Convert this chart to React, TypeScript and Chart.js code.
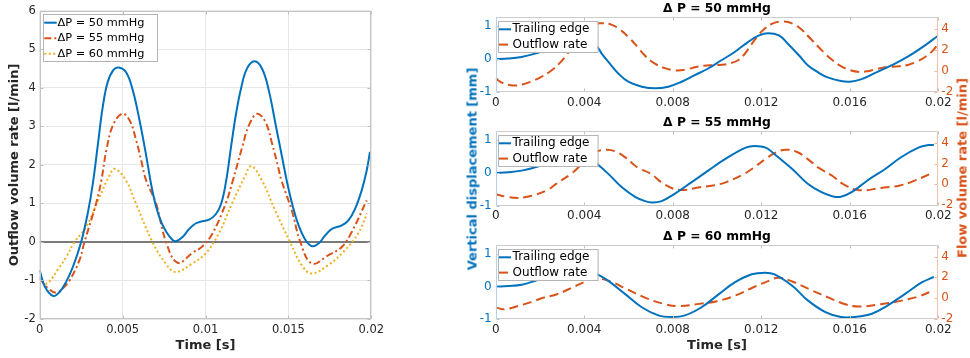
import React, { useEffect, useRef } from 'react';
import { Chart, registerables } from 'chart.js';

Chart.register(...registerables);

const FONT = '"DejaVu Sans", "Liberation Sans", sans-serif';
const BLUE = '#0072BD';
const ORANGE = '#D95319';
const YELLOW = '#EDB120';
const TXT = '#262626';

// ---------- Left chart: outflow volume rate [l/min] vs time (ms) ----------
const leftXTickVals = [0, 5, 10, 15, 20];
const leftXTickLabels = ['0', '0.005', '0.01', '0.015', '0.02'];
const leftYTicks = [-2, -1, 0, 1, 2, 3, 4, 5, 6];

const flow50T = [0, 0.3, 0.8, 1.2, 1.6, 2.0, 2.5, 2.9, 3.2, 3.5, 3.8, 4.1, 4.45, 4.78, 5.22, 5.62, 6.02, 6.42, 6.72, 7.0, 7.3, 7.65, 8.0, 8.22, 8.6, 9.0, 9.4, 9.8, 10.22, 10.62, 10.95, 11.25, 11.55, 11.85, 12.15, 12.5, 12.96, 13.42, 13.82, 14.22, 14.62, 14.92, 15.25, 15.6, 16.0, 16.42, 16.82, 17.22, 17.62, 18.22, 18.62, 19.02, 19.42, 19.72, 19.92];
const flow50V = [-0.73, -1.15, -1.4, -1.3, -1.03, -0.65, 0.0, 0.75, 1.5, 2.5, 3.5, 4.15, 4.47, 4.53, 4.4, 3.93, 3.16, 2.25, 1.5, 0.95, 0.55, 0.25, 0.06, 0.02, 0.12, 0.33, 0.48, 0.54, 0.58, 0.72, 1.0, 1.6, 2.5, 3.35, 4.0, 4.5, 4.69, 4.49, 3.93, 3.07, 2.2, 1.55, 0.95, 0.45, 0.07, -0.11, -0.04, 0.17, 0.34, 0.43, 0.56, 0.86, 1.34, 1.85, 2.34];

const flow55T = [0, 0.5, 1.0, 1.4, 1.8, 2.4, 2.7, 3.4, 3.72, 4.02, 4.42, 4.98, 5.42, 5.82, 6.12, 6.42, 7.02, 7.62, 8.32, 9.22, 9.82, 10.42, 11.22, 11.62, 12.22, 12.62, 13.12, 13.62, 14.02, 14.38, 14.58, 15.22, 15.72, 16.42, 17.42, 18.22, 18.82, 19.72];
const flow55V = [-0.95, -1.2, -1.32, -1.2, -1.0, -0.47, 0.0, 1.0, 1.6, 2.38, 3.03, 3.33, 3.16, 2.64, 2.12, 1.6, 1.0, 0.0, -0.54, -0.28, -0.11, 0.22, 1.0, 1.55, 2.47, 3.03, 3.33, 3.11, 2.55, 1.95, 1.6, 0.8, 0.0, -0.56, -0.34, -0.13, 0.26, 1.08];

const flow60T = [0, 0.4, 1.2, 1.6, 2.1, 2.8, 3.6, 4.2, 4.52, 5.2, 5.8, 6.8, 7.6, 8.2, 9.2, 10.0, 10.8, 11.6, 12.4, 12.76, 13.4, 14.2, 15.1, 15.8, 16.4, 17.4, 18.4, 19.2, 19.75];
const flow60V = [-0.9, -1.08, -0.65, -0.39, 0.0, 0.39, 1.16, 1.72, 1.9, 1.6, 1.0, 0.0, -0.56, -0.78, -0.56, -0.3, 0.22, 1.0, 1.72, 1.97, 1.6, 0.82, 0.0, -0.6, -0.82, -0.6, -0.22, 0.22, 0.74];

const zeroLineT = [0, 19.92];
const zeroLineV = [0, 0];

// ---------- Right panels: trailing edge vertical displacement [mm] ----------
const rightXTickVals = [0, 4, 8, 12, 16, 20];
const rightXTickLabels = ['0', '0.004', '0.008', '0.012', '0.016', '0.02'];
const dispTicks = [-1, 0, 1];
const flowTicks = [-2, 0, 2, 4];

const te50T = [0, 0.57, 1.17, 1.78, 2.23, 3.0, 3.8, 4.3, 4.59, 4.79, 5.09, 5.54, 5.99, 6.6, 7.2, 7.8, 8.4, 9.0, 9.6, 10.2, 10.8, 11.4, 11.9, 12.3, 12.8, 13.2, 13.7, 14.1, 14.6, 15.0, 15.6, 16.0, 16.5, 17.1, 17.9, 18.6, 19.4, 20.0];
const te50V = [0, 0.02, 0.07, 0.17, 0.27, 0.4, 0.47, 0.45, 0.37, 0.17, -0.08, -0.43, -0.68, -0.83, -0.88, -0.83, -0.68, -0.48, -0.28, -0.03, 0.22, 0.52, 0.72, 0.79, 0.72, 0.47, 0.12, -0.18, -0.41, -0.55, -0.66, -0.68, -0.61, -0.43, -0.18, 0.07, 0.42, 0.72];

const te55T = [0, 0.57, 1.17, 1.78, 2.15, 3.0, 3.8, 4.3, 4.59, 5.09, 5.69, 6.3, 6.75, 7.05, 7.5, 8.1, 8.86, 9.6, 10.36, 11.3, 11.7, 12.2, 12.6, 13.4, 14.1, 14.7, 15.2, 15.6, 16.1, 16.8, 17.6, 18.3, 19.1, 19.55, 19.8];
const te55V = [0, 0.02, 0.07, 0.17, 0.25, 0.4, 0.47, 0.42, 0.27, -0.03, -0.43, -0.73, -0.86, -0.9, -0.86, -0.63, -0.28, 0.07, 0.42, 0.77, 0.82, 0.77, 0.57, 0.12, -0.33, -0.58, -0.71, -0.73, -0.58, -0.23, 0.12, 0.47, 0.77, 0.85, 0.85];

const te60T = [0, 0.57, 1.17, 1.78, 2.08, 3.0, 3.8, 4.3, 4.59, 5.09, 5.84, 6.6, 7.35, 7.95, 8.55, 9.3, 10.1, 10.8, 11.57, 12.17, 12.6, 13.4, 14.1, 14.9, 15.6, 16.2, 17.0, 17.7, 18.5, 19.25, 19.8];
const te60V = [0, 0.02, 0.06, 0.18, 0.26, 0.42, 0.5, 0.47, 0.38, 0.18, -0.22, -0.63, -0.88, -0.93, -0.88, -0.63, -0.22, 0.13, 0.38, 0.43, 0.38, 0.03, -0.42, -0.78, -0.93, -0.93, -0.83, -0.58, -0.22, 0.13, 0.3];

const pts = (t: number[], v: number[]) => t.map((x, i) => ({ x, y: v[i] }));

const fixedTicks = (vals: number[]) => (s: any) => {
  s.ticks = vals.map((v) => ({ value: v }));
};

const framePlugin: any = {
  id: 'frame',
  afterDatasetsDraw(chart: any, _a: any, o: any) {
    const { ctx, chartArea: a } = chart;
    const L = o.tickLen;
    const seg = (x1: number, y1: number, x2: number, y2: number, c: string) => {
      ctx.strokeStyle = c;
      ctx.beginPath();
      ctx.moveTo(x1, y1);
      ctx.lineTo(x2, y2);
      ctx.stroke();
    };
    ctx.save();
    ctx.lineWidth = 1;
    ctx.setLineDash([]);
    const l = Math.round(a.left) + 0.5;
    const r = Math.round(a.right) - 0.5;
    const t = Math.round(a.top) + 0.5;
    const b = Math.round(a.bottom) - 0.5;
    const xs = chart.scales.x;
    for (const tk of xs.ticks) {
      const p = Math.round(xs.getPixelForValue(tk.value)) + 0.5;
      seg(p, b, p, b - L, o.xTick);
      seg(p, t, p, t + L, o.xTick);
    }
    const ys = chart.scales.y;
    const y2 = chart.scales.y2;
    for (const tk of ys.ticks) {
      const p = Math.round(ys.getPixelForValue(tk.value)) + 0.5;
      seg(l, p, l + L, p, o.yTick);
      if (!y2) seg(r, p, r - L, p, o.yTick);
    }
    if (y2) {
      for (const tk of y2.ticks) {
        const p = Math.round(y2.getPixelForValue(tk.value)) + 0.5;
        seg(r, p, r - L, p, o.y2Tick);
      }
    }
    seg(l, t, r, t, o.top);
    seg(l, b, r, b, o.bottom);
    seg(l, t, l, b, o.left);
    seg(r, t, r, b, o.right);
    ctx.restore();
  },
  afterDraw(chart: any, _a: any, o: any) {
    const lg = o.legend;
    if (!lg) return;
    const { ctx, chartArea: a } = chart;
    const items = chart.data.datasets.filter((d: any) => d.label);
    const x0 = Math.round(a.left + lg.dx);
    const y0 = Math.round(a.top + lg.dy);
    ctx.save();
    ctx.fillStyle = '#ffffff';
    ctx.fillRect(x0, y0, lg.w, lg.h);
    ctx.strokeStyle = lg.border;
    ctx.lineWidth = 1;
    ctx.strokeRect(x0 + 0.5, y0 + 0.5, lg.w, lg.h);
    ctx.font = `${lg.size}px ${FONT}`;
    ctx.textBaseline = 'middle';
    ctx.textAlign = 'left';
    ctx.fillStyle = '#000000';
    items.forEach((d: any, i: number) => {
      const y = y0 + lg.row0 + i * lg.rowH;
      ctx.save();
      ctx.strokeStyle = d.borderColor;
      ctx.lineWidth = d.borderWidth;
      ctx.setLineDash(d.borderDash || []);
      ctx.beginPath();
      ctx.moveTo(x0 + lg.s0, y);
      ctx.lineTo(x0 + lg.s1, y);
      ctx.stroke();
      ctx.restore();
      ctx.fillText(d.label, x0 + lg.tx, y);
    });
    ctx.restore();
  },
};

function ChartCanvas({ left, top, width, height, make }: any) {
  const ref = useRef<HTMLCanvasElement>(null);
  useEffect(() => {
    const chart = new Chart(ref.current as HTMLCanvasElement, make());
    return () => chart.destroy();
  }, []);
  return (
    <canvas
      ref={ref}
      width={width}
      height={height}
      style={{ position: 'absolute', left, top, width, height }}
    />
  );
}

const line = (label: string | undefined, t: number[], v: number[], color: string, extra: any = {}) => ({
  label,
  data: pts(t, v),
  borderColor: color,
  backgroundColor: color,
  borderWidth: 2,
  pointRadius: 0,
  fill: false,
  tension: 0.4,
  ...extra,
});

function makeLeft() {
  return {
    type: 'line',
    data: {
      datasets: [
        line('ΔP = 50 mmHg', flow50T, flow50V, BLUE, { order: 1 }),
        line('ΔP = 55 mmHg', flow55T, flow55V, ORANGE, { order: 2, borderDash: [7, 3, 2, 3] }),
        line('ΔP = 60 mmHg', flow60T, flow60V, YELLOW, { order: 3, borderDash: [2, 2.5] }),
        line(undefined, zeroLineT, zeroLineV, '#7a7a7a', { order: 10, tension: 0 }),
      ],
    },
    options: {
      responsive: false,
      animation: false,
      events: [],
      layout: { padding: { top: 10, right: 18.7, bottom: 0, left: 0 }, autoPadding: false },
      plugins: {
        legend: { display: false },
        tooltip: { enabled: false },
        title: { display: false },
        frame: {
          tickLen: 3,
          xTick: '#bdbdbd', yTick: '#bdbdbd', y2Tick: '#bdbdbd',
          top: '#c4c4c4', bottom: '#c4c4c4', left: '#c4c4c4', right: '#c4c4c4',
          legend: { dx: 3.3, dy: 3, w: 114, h: 47, row0: 8.7, rowH: 15.5, s0: 1.3, s1: 13.7, tx: 14.5, size: 11.3, border: '#b5b5b5' },
        },
      },
      scales: {
        x: {
          type: 'linear', min: 0, max: 20, position: 'bottom',
          afterBuildTicks: fixedTicks(leftXTickVals),
          afterFit: (s: any) => { s.height = 39; },
          ticks: {
            callback: (_v: any, i: number) => leftXTickLabels[i],
            font: { family: FONT, size: 11.5 }, color: TXT, padding: 4, maxRotation: 0, autoSkip: false,
          },
          grid: { color: '#e8e8e8', drawTicks: false, lineWidth: 1 },
          border: { display: false },
          title: { display: true, text: 'Time [s]', font: { family: FONT, size: 13, weight: 'bold' }, color: TXT, padding: { top: 0, bottom: 5 } },
        },
        y: {
          type: 'linear', min: -2, max: 6, position: 'left',
          afterBuildTicks: fixedTicks(leftYTicks),
          afterFit: (s: any) => { s.width = 39.7; },
          ticks: { font: { family: FONT, size: 11.5 }, color: TXT, padding: 4, autoSkip: false },
          grid: { color: '#e8e8e8', drawTicks: false, lineWidth: 1 },
          border: { display: false },
          title: { display: true, text: 'Outflow volume rate [l/min]', font: { family: FONT, size: 13, weight: 'bold' }, color: TXT, padding: { top: 7.2, bottom: 0 } },
        },
      },
    },
    plugins: [framePlugin],
  };
}

function makePanel(title: string, teT: number[], teV: number[], flT: number[], flV: number[], xh: number, showXTitle: boolean) {
  return () => ({
    type: 'line',
    data: {
      datasets: [
        line('Trailing edge', teT, teV, BLUE, { order: 1, yAxisID: 'y' }),
        line('Outflow rate', flT, flV, ORANGE, { order: 2, yAxisID: 'y2', borderDash: [9, 5] }),
      ],
    },
    options: {
      responsive: false,
      animation: false,
      events: [],
      layout: { padding: { top: 0, right: 0, bottom: 0, left: 0 }, autoPadding: false },
      plugins: {
        legend: { display: false },
        tooltip: { enabled: false },
        title: {
          display: true, text: title, fullSize: false, color: '#000000',
          font: { family: FONT, size: 12.3, weight: 'bold' }, padding: { top: 1.4, bottom: 1.1 },
        },
        frame: {
          tickLen: 3,
          xTick: '#c0c0c0', yTick: '#a9c8e6', y2Tick: '#f0bba3',
          top: '#cccccc', bottom: '#cccccc', left: '#b4d0ea', right: '#f3c3ad',
          legend: { dx: 2, dy: 3.4, w: 99.6, h: 31, row0: 8.3, rowH: 15.3, s0: 1, s1: 13, tx: 14.6, size: 12, border: '#b5b5b5' },
        },
      },
      scales: {
        x: {
          type: 'linear', min: 0, max: 20, position: 'bottom',
          afterBuildTicks: fixedTicks(rightXTickVals),
          afterFit: (s: any) => { s.height = xh; },
          ticks: {
            callback: (_v: any, i: number) => rightXTickLabels[i],
            font: { family: FONT, size: 12 }, color: TXT, padding: 3, maxRotation: 0, autoSkip: false,
          },
          grid: { display: false, drawTicks: false },
          border: { display: false },
          title: { display: showXTitle, text: 'Time [s]', font: { family: FONT, size: 13, weight: 'bold' }, color: TXT, padding: { top: 0, bottom: 5 } },
        },
        y: {
          type: 'linear', min: -1, max: 1.27, position: 'left',
          afterBuildTicks: fixedTicks(dispTicks),
          afterFit: (s: any) => { s.width = 25.7; },
          ticks: { font: { family: FONT, size: 12 }, color: BLUE, padding: 4, autoSkip: false },
          grid: { display: false, drawTicks: false },
          border: { display: false },
        },
        y2: {
          type: 'linear', min: -2.05, max: 5.1, position: 'right',
          afterBuildTicks: fixedTicks(flowTicks),
          afterFit: (s: any) => { s.width = 21.7; },
          ticks: { font: { family: FONT, size: 12 }, color: ORANGE, padding: 3, autoSkip: false },
          grid: { display: false, drawTicks: false },
          border: { display: false },
        },
      },
    },
    plugins: [framePlugin],
  });
}

const vLabel = (text: string, x: number, y: number, color: string) => (
  <div
    style={{
      position: 'absolute', left: x, top: y, transform: 'translate(-50%, -50%) rotate(-90deg)',
      whiteSpace: 'nowrap', font: `bold 13px ${FONT}`, color, lineHeight: '15px',
    }}
  >
    {text}
  </div>
);

export default function App() {
  return (
    <div style={{ position: 'fixed', left: 0, top: 0, width: 970, height: 358, background: '#ffffff', overflow: 'hidden' }}>
      <ChartCanvas left={0} top={0} width={390} height={358} make={makeLeft} />
      <ChartCanvas left={470} top={0} width={490} height={114} make={makePanel('Δ P = 50 mmHg', te50T, te50V, flow50T, flow50V, 21.7, false)} />
      <ChartCanvas left={470} top={114} width={490} height={114} make={makePanel('Δ P = 55 mmHg', te55T, te55V, flow55T, flow55V, 22.3, false)} />
      <ChartCanvas left={470} top={228} width={490} height={130} make={makePanel('Δ P = 60 mmHg', te60T, te60V, flow60T, flow60V, 38.7, true)} />
      {vLabel('Vertical displacement [mm]', 472, 169, BLUE)}
      {vLabel('Flow volume rate [l/min]', 962, 168, ORANGE)}
    </div>
  );
}
